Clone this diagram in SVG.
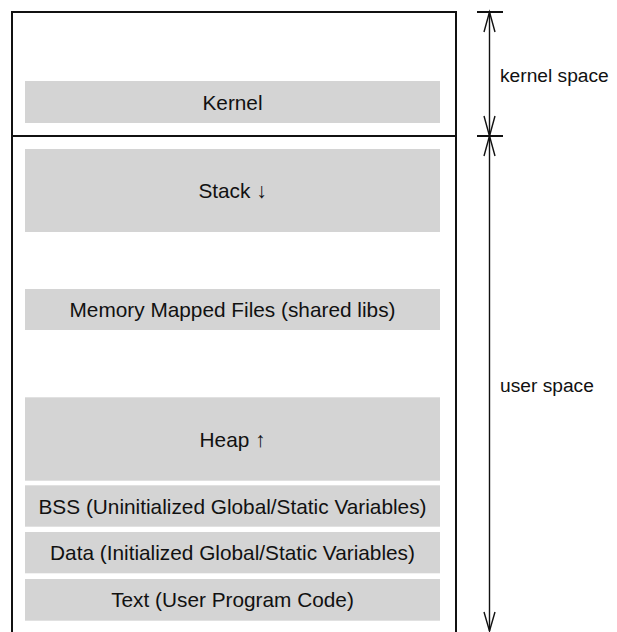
<svg xmlns="http://www.w3.org/2000/svg" width="617" height="632" viewBox="0 0 617 632">
<style>
.seg{fill:#d4d4d4;stroke:none}
.lbl{font-family:"Liberation Sans","DejaVu Sans",Arial,sans-serif;font-size:20.8px;fill:#111;text-anchor:middle}
.side{font-family:"Liberation Sans","DejaVu Sans",Arial,sans-serif;font-size:19.2px;fill:#111}
.frame{fill:none;stroke:#111;stroke-width:2}
.dim{fill:none;stroke:#111;stroke-width:1.4}
.tick{fill:none;stroke:#111;stroke-width:2}
</style>
<rect width="617" height="632" fill="#fff"/>
<g id="frame">
<path class="frame" d="M12,640 V12 H456 V640"/>
<line class="frame" x1="12" y1="136" x2="456" y2="136"/>
</g>
<g id="kernel"><rect class="seg" x="25" y="81" width="415" height="42"/><text class="lbl" x="232.5" y="109.5">Kernel</text></g>
<g id="stack"><rect class="seg" x="25" y="149" width="415" height="83"/><text class="lbl" x="232.5" y="198">Stack ↓</text></g>
<g id="mmap"><rect class="seg" x="25" y="289" width="415" height="41"/><text class="lbl" x="232.5" y="317">Memory Mapped Files (shared libs)</text></g>
<g id="heap"><rect class="seg" x="25" y="397.3" width="415" height="83.4"/><text class="lbl" x="232.5" y="446.5">Heap ↑</text></g>
<g id="bss"><rect class="seg" x="25" y="485.3" width="415" height="41.4"/><text class="lbl" x="232.5" y="513.5">BSS (Uninitialized Global/Static Variables)</text></g>
<g id="data"><rect class="seg" x="25" y="532" width="415" height="41.3"/><text class="lbl" x="232.5" y="560.2">Data (Initialized Global/Static Variables)</text></g>
<g id="text"><rect class="seg" x="25" y="579" width="415" height="41.7"/><text class="lbl" x="232.5" y="607.2">Text (User Program Code)</text></g>
<g id="connectors">
<line class="tick" x1="477" y1="12" x2="503" y2="12"/>
<line class="tick" x1="477" y1="136" x2="503" y2="136"/>
<line class="dim" x1="489.5" y1="12" x2="489.5" y2="136"/>
<line class="dim" x1="489.5" y1="136" x2="489.5" y2="631"/>
<path class="dim" d="M484,32 L489.5,12 L495,32"/>
<path class="dim" d="M484,116 L489.5,136 L495,116"/>
<path class="dim" d="M484,156 L489.5,136 L495,156"/>
<path class="dim" d="M484,612 L489.5,631 L495,612"/>
</g>
<g id="labels">
<text class="side" x="500" y="81.5">kernel space</text>
<text class="side" x="500" y="391.5">user space</text>
</g>
</svg>
